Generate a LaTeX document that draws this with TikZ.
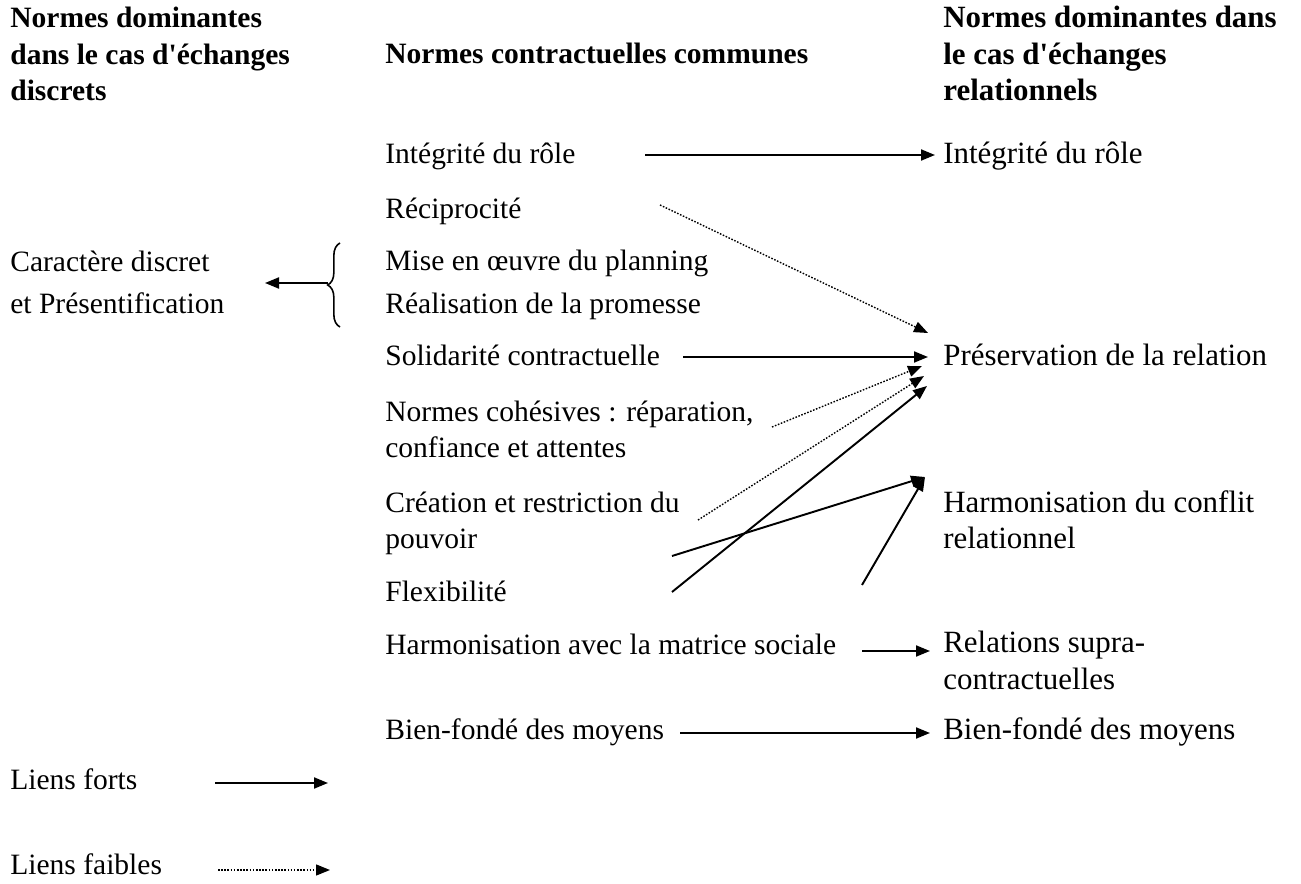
\documentclass[tikz,border=0pt]{standalone}
\usepackage{fontspec}
\setmainfont{Liberation Serif}
\usepackage{tikz}
\usetikzlibrary{arrows.meta, calc, decorations.pathreplacing}

\begin{document}
\begin{tikzpicture}[
    x=0.02cm, y=-0.02cm,
    >={Triangle[length=0.28cm, width=0.22cm]},
    label/.style={anchor=base west, inner sep=0pt, align=left, font=\fontsize{16.8}{21}\selectfont},
    labelR/.style={label, font=\fontsize{17.6}{21}\selectfont},
    header/.style={label, font=\fontsize{16.8}{21}\selectfont\bfseries},
    headerR/.style={label, font=\fontsize{17.6}{21}\selectfont\bfseries},
    strong/.style={->, line width=1.1pt},
    weak/.style={->, line width=0.8pt, dash pattern=on 0.9pt off 0.9pt}
]
\useasboundingbox (0,0) rectangle (1301,884);

% en-têtes (ancrés sur la dernière ligne)
\node (hdisc) [header] at (10,101) {Normes dominantes\\dans le cas d\textquotesingle échanges\\discrets};
\node (hcomm) [header] at (385,64) {Normes contractuelles communes};
\node (hrel) [headerR] at (943,101) {Normes dominantes dans\\le cas d\textquotesingle échanges\\relationnels};

% colonne du milieu
\node (integ) [label] at (385,164) {Intégrité du rôle};
\node (recip) [label] at (385,219) {Réciprocité};
\node (mise) [label] at (385,271) {Mise en œuvre du planning};
\node (promesse) [label] at (385,314) {Réalisation de la promesse};
\node (solid) [label] at (385,366) {Solidarité contractuelle};
\node (cohes) [label] at (385,458) {Normes cohésives : réparation,\\confiance et attentes};
\node (pouvoir) [label] at (385,549) {Création et restriction du\\pouvoir};
\node (flex) [label] at (385,602) {Flexibilité};
\node (matrice) [label] at (385,654) {Harmonisation avec la matrice sociale};
\node (moyens) [label] at (385,739) {Bien-fondé des moyens};

% colonne de droite
\node (integR) [labelR] at (943,164) {Intégrité du rôle};
\node (preserv) [labelR] at (943,366) {Préservation de la relation};
\node (conflit) [labelR] at (943,549) {Harmonisation du conflit\\relationnel};
\node (supra) [labelR] at (943,689) {Relations supra-\\contractuelles};
\node (moyensR) [labelR] at (943,739) {Bien-fondé des moyens};

% colonne de gauche
\node (discret) [label] at (10,314) {Caractère discret\\[3pt]et Présentification};

% légende
\node (forts) [label] at (10,789) {Liens forts};
\node (faibles) [label] at (10,874) {Liens faibles};

% accolade
\draw [line width=0.9pt, decorate, decoration={brace, amplitude=7pt}]
    ($(promesse.base west)+(-45,13)$) -- ($(mise.base west)+(-45,-28)$);
\draw [strong] ($(mise.base west)+(-57,12)$) -- ($(discret.base west)+(255,-31)$);

% liens
\draw [strong] ($(integ.base west)+(260,-9)$) -- ($(integR.base west)+(-8,-9)$);
\draw [weak] ($(recip.base west)+(275,-14)$) -- ($(preserv.base west)+(-15,-33)$);
\draw [strong] ($(solid.base west)+(298,-9)$) -- ($(preserv.base west)+(-15,-9)$);
\draw [weak] ($(cohes.base west)+(387,-31)$) -- ($(preserv.base west)+(-21,0)$);
\draw [weak] ($(pouvoir.base west)+(313,-29)$) -- ($(preserv.base west)+(-19,10)$);
\draw [strong] ($(flex.base west)+(287,-10)$) -- ($(preserv.base west)+(-16,20)$);
\draw [strong] ($(pouvoir.base west)+(287,7)$) -- ($(conflit.base west)+(-18,-72)$);
\draw [strong] ($(matrice.base west)+(477,-69)$) -- ($(conflit.base west)+(-18,-72)$);
\draw [strong] ($(matrice.base west)+(477,-3)$) -- ($(supra.base west)+(-13,-38)$);
\draw [strong] ($(moyens.base west)+(295,-6)$) -- ($(moyensR.base west)+(-13,-6)$);

% légende
\draw [strong] ($(forts.base west)+(205,-6)$) -- ($(forts.base west)+(318,-6)$);
\draw [weak] ($(faibles.base west)+(208,-4)$) -- ($(faibles.base west)+(320,-4)$);

\end{tikzpicture}
\end{document}
